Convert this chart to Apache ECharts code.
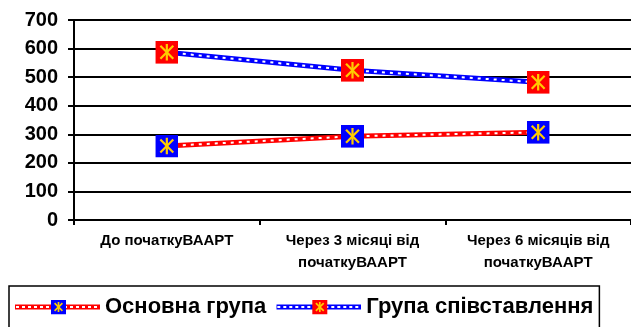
<!DOCTYPE html>
<html><head><meta charset="utf-8">
<script src="https://cdn.jsdelivr.net/npm/echarts@6/dist/echarts.min.js"></script>
<style>html,body{margin:0;padding:0;background:#fff}#c{width:631px;height:327px}</style>
</head><body><div id="c"></div>
<script>
const categories = ['До початкуВААРТ', 'Через 3 місяці від\nпочаткуВААРТ', 'Через 6 місяців від\nпочаткуВААРТ'];
const mainGroup = [259, 293, 307];
const compareGroup = [587, 524, 482];
const seriesNames = ['Основна група', 'Група співставлення'];
const yTicks = [0, 100, 200, 300, 400, 500, 600, 700];

function markerSvg(fill, s) {
  const c = s / 2, r = s * 0.36;
  const d = r * 0.78;
  return 'image://data:image/svg+xml;utf8,' + encodeURIComponent(
    `<svg xmlns="http://www.w3.org/2000/svg" width="${s}" height="${s}" viewBox="0 0 ${s} ${s}">` +
    `<rect x="0" y="0" width="${s}" height="${s}" fill="${fill}"/>` +
    `<g stroke="#FFCC00" stroke-width="${s > 18 ? 2.2 : 1.7}">` +
    `<line x1="${c}" y1="${c - r}" x2="${c}" y2="${c + r}"/>` +
    `<line x1="${c - d}" y1="${c - d}" x2="${c + d}" y2="${c + d}"/>` +
    `<line x1="${c + d}" y1="${c - d}" x2="${c - d}" y2="${c + d}"/>` +
    `</g></svg>`);
}
function legendSvg(lineColor, markFill) {
  const w = 85, h = 15;
  const c = h / 2, r = 5, d = 3.9, mx = 36;
  return 'image://data:image/svg+xml;utf8,' + encodeURIComponent(
    `<svg xmlns="http://www.w3.org/2000/svg" width="${w}" height="${h}" viewBox="0 0 ${w} ${h}">` +
    `<line x1="0" y1="${c}" x2="${w}" y2="${c}" stroke="${lineColor}" stroke-width="5"/>` +
    `<line x1="1" y1="${c}" x2="${w}" y2="${c}" stroke="#fff" stroke-width="2" stroke-dasharray="3,3"/>` +
    `<rect x="${mx}" y="0" width="${h}" height="${h}" fill="${markFill}"/>` +
    `<g stroke="#FFCC00" stroke-width="1.7">` +
    `<line x1="${mx + c}" y1="${c - r}" x2="${mx + c}" y2="${c + r}"/>` +
    `<line x1="${mx + c - d}" y1="${c - d}" x2="${mx + c + d}" y2="${c + d}"/>` +
    `<line x1="${mx + c + d}" y1="${c - d}" x2="${mx + c - d}" y2="${c + d}"/>` +
    `</g></svg>`);
}

const chart = echarts.init(document.getElementById('c'), null, {renderer: 'canvas'});
function groupSeries(name, data, lineColor, markFill) {
  return [
    {name: name, type: 'line', data: data, symbol: 'none', z: 2,
     lineStyle: {color: lineColor, width: 5}, itemStyle: {color: lineColor}, animation: false},
    {name: name + '_holes', type: 'line', data: data, z: 3, silent: true,
     symbol: markerSvg(markFill, 23), symbolSize: 23, showAllSymbol: true,
     lineStyle: {color: '#fff', width: 2, type: [3, 5]}, animation: false}
  ];
}
chart.setOption({
  animation: false,
  grid: {left: 74, right: 0, top: 20, bottom: 107, containLabel: false},
  xAxis: {
    type: 'category', data: categories, boundaryGap: true,
    axisLine: {lineStyle: {color: '#000', width: 2}},
    axisTick: {show: true, length: 5, lineStyle: {color: '#000', width: 2}},
    axisLabel: {color: '#000', fontWeight: 'bold', fontSize: 15, fontFamily: 'Arial, "Liberation Sans", sans-serif', lineHeight: 22, margin: 10}
  },
  yAxis: {
    type: 'value', min: 0, max: 700, interval: 100,
    axisLine: {show: true, lineStyle: {color: '#000', width: 2}},
    axisTick: {show: true, length: 6, lineStyle: {color: '#000', width: 2}},
    splitLine: {lineStyle: {color: '#000', width: 2}},
    axisLabel: {color: '#000', fontWeight: 'bold', fontSize: 20, fontFamily: 'Arial, "Liberation Sans", sans-serif', margin: 16,
      formatter: v => yTicks.includes(v) ? String(v) : ''}
  },
  legend: {
    left: 9, top: 286,
    data: [
      {name: seriesNames[0], icon: legendSvg('#FF0000', '#0000FF')},
      {name: seriesNames[1], icon: legendSvg('#0000FF', '#FF0000')}
    ],
    itemWidth: 85, itemHeight: 15, itemGap: 10,
    borderColor: '#000', borderWidth: 1.5, padding: [10, 6, 12, 6],
    textStyle: {color: '#000', fontWeight: 'bold', fontSize: 22, fontFamily: 'Arial, "Liberation Sans", sans-serif'}
  },
  series: [
    ...groupSeries(seriesNames[0], mainGroup, '#FF0000', '#0000FF'),
    ...groupSeries(seriesNames[1], compareGroup, '#0000FF', '#FF0000')
  ]
});
</script></body></html>
